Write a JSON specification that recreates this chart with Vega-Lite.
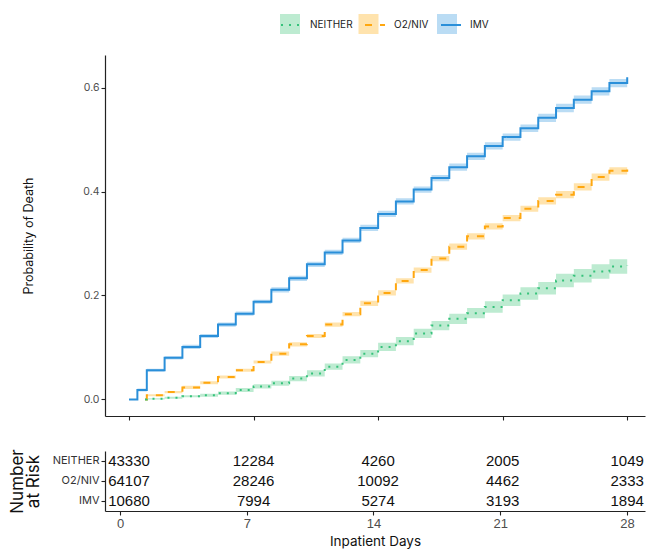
{
  "$schema": "https://vega.github.io/schema/vega-lite/v6.json",
  "padding": {"left": 8, "top": 14, "right": 1, "bottom": 2},
  "background": "white",
  "config": {
    "view": {"stroke": null},
    "font": "Inter",
    "axis": {"domainColor": "#222222", "domainWidth": 1.2, "tickColor": "#222222", "tickWidth": 1.1, "grid": false, "titleFontWeight": "normal", "titleColor": "#111111", "labelColor": "#4d4d4d"},
    "legend": {"labelFont": "Inter", "labelFontSize": 10, "labelColor": "#222222"}
  },
  "datasets": {
    "km": [
      {"g": "IMV", "t": 0, "p": 0, "lo": 0, "hi": 0},
      {"g": "IMV", "t": 0.47, "p": 0.018, "lo": 0.015, "hi": 0.021},
      {"g": "IMV", "t": 1, "p": 0.056, "lo": 0.053, "hi": 0.059},
      {"g": "IMV", "t": 2, "p": 0.080, "lo": 0.077, "hi": 0.083},
      {"g": "IMV", "t": 3, "p": 0.101, "lo": 0.097, "hi": 0.105},
      {"g": "IMV", "t": 4, "p": 0.122, "lo": 0.118, "hi": 0.126},
      {"g": "IMV", "t": 5, "p": 0.144, "lo": 0.140, "hi": 0.148},
      {"g": "IMV", "t": 6, "p": 0.165, "lo": 0.161, "hi": 0.169},
      {"g": "IMV", "t": 7, "p": 0.188, "lo": 0.184, "hi": 0.192},
      {"g": "IMV", "t": 8, "p": 0.211, "lo": 0.206, "hi": 0.216},
      {"g": "IMV", "t": 9, "p": 0.233, "lo": 0.228, "hi": 0.238},
      {"g": "IMV", "t": 10, "p": 0.260, "lo": 0.255, "hi": 0.265},
      {"g": "IMV", "t": 11, "p": 0.283, "lo": 0.278, "hi": 0.288},
      {"g": "IMV", "t": 12, "p": 0.306, "lo": 0.301, "hi": 0.311},
      {"g": "IMV", "t": 13, "p": 0.330, "lo": 0.324, "hi": 0.336},
      {"g": "IMV", "t": 14, "p": 0.357, "lo": 0.351, "hi": 0.363},
      {"g": "IMV", "t": 15, "p": 0.381, "lo": 0.375, "hi": 0.387},
      {"g": "IMV", "t": 16, "p": 0.404, "lo": 0.398, "hi": 0.410},
      {"g": "IMV", "t": 17, "p": 0.426, "lo": 0.420, "hi": 0.432},
      {"g": "IMV", "t": 18, "p": 0.447, "lo": 0.440, "hi": 0.454},
      {"g": "IMV", "t": 19, "p": 0.468, "lo": 0.461, "hi": 0.475},
      {"g": "IMV", "t": 20, "p": 0.488, "lo": 0.481, "hi": 0.495},
      {"g": "IMV", "t": 21, "p": 0.505, "lo": 0.498, "hi": 0.512},
      {"g": "IMV", "t": 22, "p": 0.522, "lo": 0.515, "hi": 0.529},
      {"g": "IMV", "t": 23, "p": 0.542, "lo": 0.534, "hi": 0.550},
      {"g": "IMV", "t": 24, "p": 0.561, "lo": 0.553, "hi": 0.569},
      {"g": "IMV", "t": 25, "p": 0.577, "lo": 0.569, "hi": 0.585},
      {"g": "IMV", "t": 26, "p": 0.593, "lo": 0.585, "hi": 0.601},
      {"g": "IMV", "t": 27, "p": 0.609, "lo": 0.601, "hi": 0.617},
      {"g": "IMV", "t": 28, "p": 0.620, "lo": 0.611, "hi": 0.629},
      {"g": "O2/NIV", "t": 0.9, "p": 0, "lo": 0, "hi": 0},
      {"g": "O2/NIV", "t": 1, "p": 0.008, "lo": 0.006, "hi": 0.010},
      {"g": "O2/NIV", "t": 2, "p": 0.014, "lo": 0.012, "hi": 0.016},
      {"g": "O2/NIV", "t": 3, "p": 0.023, "lo": 0.020, "hi": 0.026},
      {"g": "O2/NIV", "t": 4, "p": 0.032, "lo": 0.029, "hi": 0.035},
      {"g": "O2/NIV", "t": 5, "p": 0.043, "lo": 0.040, "hi": 0.046},
      {"g": "O2/NIV", "t": 6, "p": 0.056, "lo": 0.053, "hi": 0.059},
      {"g": "O2/NIV", "t": 7, "p": 0.072, "lo": 0.069, "hi": 0.075},
      {"g": "O2/NIV", "t": 8, "p": 0.088, "lo": 0.084, "hi": 0.092},
      {"g": "O2/NIV", "t": 9, "p": 0.106, "lo": 0.102, "hi": 0.110},
      {"g": "O2/NIV", "t": 10, "p": 0.122, "lo": 0.118, "hi": 0.126},
      {"g": "O2/NIV", "t": 11, "p": 0.144, "lo": 0.140, "hi": 0.148},
      {"g": "O2/NIV", "t": 12, "p": 0.164, "lo": 0.160, "hi": 0.168},
      {"g": "O2/NIV", "t": 13, "p": 0.185, "lo": 0.180, "hi": 0.190},
      {"g": "O2/NIV", "t": 14, "p": 0.205, "lo": 0.200, "hi": 0.210},
      {"g": "O2/NIV", "t": 15, "p": 0.228, "lo": 0.223, "hi": 0.233},
      {"g": "O2/NIV", "t": 16, "p": 0.249, "lo": 0.244, "hi": 0.254},
      {"g": "O2/NIV", "t": 17, "p": 0.271, "lo": 0.266, "hi": 0.276},
      {"g": "O2/NIV", "t": 18, "p": 0.294, "lo": 0.288, "hi": 0.300},
      {"g": "O2/NIV", "t": 19, "p": 0.314, "lo": 0.308, "hi": 0.320},
      {"g": "O2/NIV", "t": 20, "p": 0.333, "lo": 0.327, "hi": 0.339},
      {"g": "O2/NIV", "t": 21, "p": 0.349, "lo": 0.343, "hi": 0.355},
      {"g": "O2/NIV", "t": 22, "p": 0.367, "lo": 0.361, "hi": 0.373},
      {"g": "O2/NIV", "t": 23, "p": 0.382, "lo": 0.375, "hi": 0.389},
      {"g": "O2/NIV", "t": 24, "p": 0.394, "lo": 0.387, "hi": 0.401},
      {"g": "O2/NIV", "t": 25, "p": 0.409, "lo": 0.402, "hi": 0.416},
      {"g": "O2/NIV", "t": 26, "p": 0.428, "lo": 0.421, "hi": 0.435},
      {"g": "O2/NIV", "t": 27, "p": 0.440, "lo": 0.433, "hi": 0.447},
      {"g": "O2/NIV", "t": 28, "p": 0.450, "lo": 0.442, "hi": 0.458},
      {"g": "NEITHER", "t": 0.9, "p": 0, "lo": 0, "hi": 0},
      {"g": "NEITHER", "t": 1, "p": 0.001, "lo": 0.000, "hi": 0.002},
      {"g": "NEITHER", "t": 2, "p": 0.003, "lo": 0.001, "hi": 0.005},
      {"g": "NEITHER", "t": 3, "p": 0.006, "lo": 0.004, "hi": 0.008},
      {"g": "NEITHER", "t": 4, "p": 0.008, "lo": 0.005, "hi": 0.011},
      {"g": "NEITHER", "t": 5, "p": 0.012, "lo": 0.009, "hi": 0.015},
      {"g": "NEITHER", "t": 6, "p": 0.018, "lo": 0.014, "hi": 0.022},
      {"g": "NEITHER", "t": 7, "p": 0.025, "lo": 0.021, "hi": 0.029},
      {"g": "NEITHER", "t": 8, "p": 0.031, "lo": 0.026, "hi": 0.036},
      {"g": "NEITHER", "t": 9, "p": 0.040, "lo": 0.035, "hi": 0.045},
      {"g": "NEITHER", "t": 10, "p": 0.050, "lo": 0.044, "hi": 0.056},
      {"g": "NEITHER", "t": 11, "p": 0.063, "lo": 0.057, "hi": 0.069},
      {"g": "NEITHER", "t": 12, "p": 0.076, "lo": 0.069, "hi": 0.083},
      {"g": "NEITHER", "t": 13, "p": 0.088, "lo": 0.081, "hi": 0.095},
      {"g": "NEITHER", "t": 14, "p": 0.101, "lo": 0.093, "hi": 0.109},
      {"g": "NEITHER", "t": 15, "p": 0.112, "lo": 0.104, "hi": 0.120},
      {"g": "NEITHER", "t": 16, "p": 0.127, "lo": 0.118, "hi": 0.136},
      {"g": "NEITHER", "t": 17, "p": 0.142, "lo": 0.133, "hi": 0.151},
      {"g": "NEITHER", "t": 18, "p": 0.155, "lo": 0.145, "hi": 0.165},
      {"g": "NEITHER", "t": 19, "p": 0.166, "lo": 0.156, "hi": 0.176},
      {"g": "NEITHER", "t": 20, "p": 0.178, "lo": 0.167, "hi": 0.189},
      {"g": "NEITHER", "t": 21, "p": 0.191, "lo": 0.180, "hi": 0.202},
      {"g": "NEITHER", "t": 22, "p": 0.204, "lo": 0.192, "hi": 0.216},
      {"g": "NEITHER", "t": 23, "p": 0.214, "lo": 0.202, "hi": 0.226},
      {"g": "NEITHER", "t": 24, "p": 0.229, "lo": 0.216, "hi": 0.242},
      {"g": "NEITHER", "t": 25, "p": 0.238, "lo": 0.225, "hi": 0.251},
      {"g": "NEITHER", "t": 26, "p": 0.246, "lo": 0.232, "hi": 0.260},
      {"g": "NEITHER", "t": 27, "p": 0.256, "lo": 0.242, "hi": 0.270},
      {"g": "NEITHER", "t": 28, "p": 0.258, "lo": 0.243, "hi": 0.273}
    ],
    "risk": [
      {"g": "NEITHER", "t": 0, "n": 43330},
      {"g": "NEITHER", "t": 7, "n": 12284},
      {"g": "NEITHER", "t": 14, "n": 4260},
      {"g": "NEITHER", "t": 21, "n": 2005},
      {"g": "NEITHER", "t": 28, "n": 1049},
      {"g": "O2/NIV", "t": 0, "n": 64107},
      {"g": "O2/NIV", "t": 7, "n": 28246},
      {"g": "O2/NIV", "t": 14, "n": 10092},
      {"g": "O2/NIV", "t": 21, "n": 4462},
      {"g": "O2/NIV", "t": 28, "n": 2333},
      {"g": "IMV", "t": 0, "n": 10680},
      {"g": "IMV", "t": 7, "n": 7994},
      {"g": "IMV", "t": 14, "n": 5274},
      {"g": "IMV", "t": 21, "n": 3193},
      {"g": "IMV", "t": 28, "n": 1894}
    ]
  },
  "spacing": 27,
  "vconcat": [
    {
      "width": 540,
      "height": 361,
      "data": {"name": "km"},
      "layer": [
        {
          "mark": {"type": "area", "interpolate": "step-after", "opacity": 1},
          "encoding": {
            "x": {"field": "t", "type": "quantitative", "scale": {"domain": [-1.35, 29], "nice": false, "zero": false},
                  "axis": {"values": [0, 7, 14, 21, 28], "labels": false, "title": null, "tickSize": 4}},
            "y": {"field": "lo", "type": "quantitative", "scale": {"domain": [-0.032, 0.663], "nice": false, "zero": false},
                  "axis": {"values": [0, 0.2, 0.4, 0.6], "format": ".1f", "title": "Probability of Death", "titlePadding": 47, "tickSize": 4, "labelFontSize": 10.5, "titleFontSize": 12.5, "labelPadding": 2}},
            "y2": {"field": "hi"},
            "fill": {"field": "g", "type": "nominal", "sort": ["NEITHER", "O2/NIV", "IMV"],
                     "scale": {"range": ["#BDEBD1", "#FFE3AD", "#BADCF4"]},
                     "legend": {"orient": "none", "legendX": 175, "legendY": -41, "direction": "horizontal", "title": null, "symbolType": "square", "symbolSize": 400, "symbolStrokeWidth": 0, "symbolOpacity": 1, "labelExpr": "''", "labelOffset": 0, "columnPadding": 58.5, "zindex": 0}}
          }
        },
        {
          "mark": {"type": "line", "interpolate": "step-after", "strokeWidth": 2},
          "encoding": {
            "x": {"field": "t", "type": "quantitative"},
            "y": {"field": "p", "type": "quantitative"},
            "stroke": {"field": "g", "type": "nominal",
                       "scale": {"domain": ["NEITHER", "O2/NIV", "IMV"], "range": ["#36C27B", "#FFA70F", "#2A8FD9"]},
                       "legend": {"orient": "none", "legendX": 175, "legendY": -41, "direction": "horizontal", "title": null, "symbolType": "stroke", "symbolSize": 400, "symbolStrokeWidth": 2, "labelOffset": 8, "columnPadding": 8, "zindex": 2}},
            "strokeDash": {"field": "g", "type": "nominal",
                           "scale": {"domain": ["NEITHER", "O2/NIV", "IMV"], "range": [[2, 6], [7, 8], [1, 0]]},
                           "legend": {"orient": "none", "legendX": 175, "legendY": -41, "direction": "horizontal", "title": null, "symbolType": "stroke", "symbolSize": 400, "symbolStrokeWidth": 2, "labelOffset": 8, "columnPadding": 8, "zindex": 2}}
          }
        }
      ]
    },
    {
      "width": 540,
      "height": 60,
      "data": {"name": "risk"},
      "layer": [
        {
          "mark": {"type": "text", "font": "Liberation Sans", "fontSize": 15, "color": "#111111"},
          "encoding": {
            "x": {"field": "t", "type": "quantitative", "scale": {"domain": [-1.35, 29], "nice": false, "zero": false}, "axis": null},
            "y": {"field": "g", "type": "nominal", "scale": {"domain": ["NEITHER", "O2/NIV", "IMV"], "paddingInner": 0, "paddingOuter": 0},
                  "axis": {"title": ["Number", "at Risk"], "titleFontSize": 17, "titleLineHeight": 15.5, "titlePadding": 10, "labelFontSize": 11, "labelColor": "#333333", "tickSize": 4, "labelPadding": 2}},
            "text": {"field": "n", "type": "quantitative"}
          }
        },
        {
          "mark": {"type": "tick", "opacity": 0},
          "encoding": {
            "x": {"field": "t", "type": "quantitative", "scale": {"domain": [-0.83, 29], "nice": false, "zero": false},
                  "axis": {"orient": "bottom", "values": [0, 7, 14, 21, 28], "title": "Inpatient Days", "labelFont": "Liberation Sans", "labelFontSize": 13, "titleFontSize": 13.5, "tickSize": 4, "labelPadding": 2, "titlePadding": 4}},
            "y": {"field": "g", "type": "nominal"}
          }
        }
      ],
      "resolve": {"scale": {"x": "independent"}}
    }
  ]
}
